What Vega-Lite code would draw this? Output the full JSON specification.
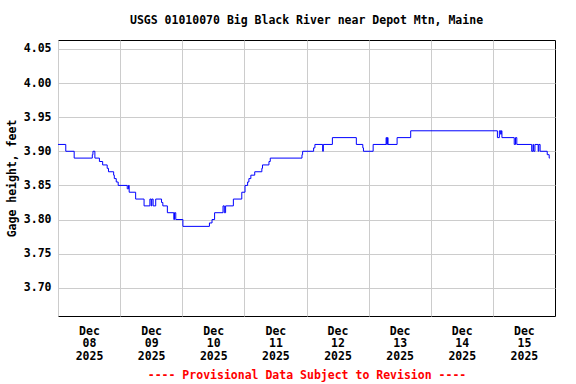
{
  "$schema": "https://vega.github.io/schema/vega-lite/v6.json",
  "autosize": {"type": "none"},
  "width": 497,
  "height": 276,
  "padding": {"left": 58, "top": 40, "right": 21, "bottom": 68},
  "background": "white",
  "title": {
    "text": "USGS 01010070 Big Black River near Depot Mtn, Maine",
    "font": "DejaVu Sans Mono",
    "fontSize": 11.5,
    "fontWeight": "bold",
    "color": "black",
    "anchor": "middle",
    "offset": 14
  },
  "config": {
    "view": {"stroke": "black", "strokeWidth": 1},
    "font": "DejaVu Sans Mono"
  },
  "data": {
    "values": [
      {"t": "2025-12-08T00:00:00", "v": 3.91},
      {"t": "2025-12-08T03:00:00", "v": 3.90},
      {"t": "2025-12-08T06:15:00", "v": 3.89},
      {"t": "2025-12-08T13:15:00", "v": 3.895},
      {"t": "2025-12-08T13:30:00", "v": 3.90},
      {"t": "2025-12-08T14:15:00", "v": 3.89},
      {"t": "2025-12-08T16:00:00", "v": 3.885},
      {"t": "2025-12-08T17:15:00", "v": 3.88},
      {"t": "2025-12-08T19:00:00", "v": 3.875},
      {"t": "2025-12-08T19:30:00", "v": 3.87},
      {"t": "2025-12-08T21:30:00", "v": 3.865},
      {"t": "2025-12-08T21:45:00", "v": 3.86},
      {"t": "2025-12-08T22:30:00", "v": 3.855},
      {"t": "2025-12-08T23:15:00", "v": 3.85},
      {"t": "2025-12-09T02:45:00", "v": 3.845},
      {"t": "2025-12-09T03:15:00", "v": 3.85},
      {"t": "2025-12-09T03:30:00", "v": 3.84},
      {"t": "2025-12-09T06:00:00", "v": 3.83},
      {"t": "2025-12-09T09:15:00", "v": 3.82},
      {"t": "2025-12-09T11:30:00", "v": 3.83},
      {"t": "2025-12-09T12:00:00", "v": 3.82},
      {"t": "2025-12-09T12:15:00", "v": 3.83},
      {"t": "2025-12-09T12:45:00", "v": 3.82},
      {"t": "2025-12-09T13:45:00", "v": 3.83},
      {"t": "2025-12-09T16:00:00", "v": 3.825},
      {"t": "2025-12-09T16:30:00", "v": 3.82},
      {"t": "2025-12-09T18:15:00", "v": 3.81},
      {"t": "2025-12-09T20:45:00", "v": 3.80},
      {"t": "2025-12-09T21:00:00", "v": 3.81},
      {"t": "2025-12-09T21:30:00", "v": 3.80},
      {"t": "2025-12-10T00:15:00", "v": 3.79},
      {"t": "2025-12-10T10:30:00", "v": 3.795},
      {"t": "2025-12-10T11:30:00", "v": 3.80},
      {"t": "2025-12-10T12:30:00", "v": 3.81},
      {"t": "2025-12-10T15:45:00", "v": 3.82},
      {"t": "2025-12-10T16:15:00", "v": 3.81},
      {"t": "2025-12-10T16:45:00", "v": 3.82},
      {"t": "2025-12-10T19:45:00", "v": 3.83},
      {"t": "2025-12-10T23:00:00", "v": 3.84},
      {"t": "2025-12-11T00:15:00", "v": 3.85},
      {"t": "2025-12-11T01:15:00", "v": 3.855},
      {"t": "2025-12-11T01:45:00", "v": 3.86},
      {"t": "2025-12-11T02:30:00", "v": 3.865},
      {"t": "2025-12-11T04:00:00", "v": 3.87},
      {"t": "2025-12-11T06:45:00", "v": 3.875},
      {"t": "2025-12-11T07:00:00", "v": 3.88},
      {"t": "2025-12-11T09:30:00", "v": 3.885},
      {"t": "2025-12-11T10:00:00", "v": 3.89},
      {"t": "2025-12-11T22:15:00", "v": 3.895},
      {"t": "2025-12-11T22:30:00", "v": 3.90},
      {"t": "2025-12-12T02:45:00", "v": 3.905},
      {"t": "2025-12-12T03:15:00", "v": 3.91},
      {"t": "2025-12-12T06:15:00", "v": 3.90},
      {"t": "2025-12-12T06:30:00", "v": 3.91},
      {"t": "2025-12-12T10:00:00", "v": 3.92},
      {"t": "2025-12-12T19:15:00", "v": 3.91},
      {"t": "2025-12-12T21:45:00", "v": 3.905},
      {"t": "2025-12-12T22:00:00", "v": 3.90},
      {"t": "2025-12-13T01:45:00", "v": 3.91},
      {"t": "2025-12-13T06:45:00", "v": 3.92},
      {"t": "2025-12-13T07:00:00", "v": 3.91},
      {"t": "2025-12-13T07:15:00", "v": 3.92},
      {"t": "2025-12-13T07:30:00", "v": 3.91},
      {"t": "2025-12-13T11:00:00", "v": 3.92},
      {"t": "2025-12-13T16:15:00", "v": 3.93},
      {"t": "2025-12-15T01:45:00", "v": 3.92},
      {"t": "2025-12-15T02:30:00", "v": 3.93},
      {"t": "2025-12-15T03:00:00", "v": 3.925},
      {"t": "2025-12-15T03:15:00", "v": 3.93},
      {"t": "2025-12-15T03:30:00", "v": 3.92},
      {"t": "2025-12-15T08:15:00", "v": 3.91},
      {"t": "2025-12-15T08:45:00", "v": 3.92},
      {"t": "2025-12-15T09:15:00", "v": 3.91},
      {"t": "2025-12-15T15:00:00", "v": 3.90},
      {"t": "2025-12-15T15:30:00", "v": 3.91},
      {"t": "2025-12-15T15:45:00", "v": 3.90},
      {"t": "2025-12-15T16:15:00", "v": 3.91},
      {"t": "2025-12-15T17:30:00", "v": 3.90},
      {"t": "2025-12-15T17:45:00", "v": 3.91},
      {"t": "2025-12-15T18:15:00", "v": 3.90},
      {"t": "2025-12-15T21:00:00", "v": 3.895},
      {"t": "2025-12-15T21:45:00", "v": 3.89},
      {"t": "2025-12-15T22:00:00", "v": 3.89}
    ]
  },
  "mark": {"type": "line", "interpolate": "step-after", "color": "#0000ff", "strokeWidth": 1, "clip": true},
  "encoding": {
    "x": {
      "field": "t",
      "type": "temporal",
      "scale": {
        "domain": [
          {"year": 2025, "month": 12, "date": 8},
          {"year": 2025, "month": 12, "date": 16}
        ],
        "nice": false
      },
      "axis": {
        "values": [
          {"year": 2025, "month": 12, "date": 8},
          {"year": 2025, "month": 12, "date": 9},
          {"year": 2025, "month": 12, "date": 10},
          {"year": 2025, "month": 12, "date": 11},
          {"year": 2025, "month": 12, "date": 12},
          {"year": 2025, "month": 12, "date": 13},
          {"year": 2025, "month": 12, "date": 14},
          {"year": 2025, "month": 12, "date": 15}
        ],
        "labelExpr": "[timeFormat(datum.value, '%b'), timeFormat(datum.value, '%d'), timeFormat(datum.value, '%Y')]",
        "labelOffset": 31,
        "labelAlign": "center",
        "labelBaseline": "top",
        "labelPadding": 9,
        "labelLineHeight": 12.5,
        "labelFont": "DejaVu Sans Mono",
        "labelFontSize": 11.5,
        "labelFontWeight": "bold",
        "labelColor": "black",
        "labelFlush": false,
        "labelOverlap": false,
        "ticks": false,
        "domain": false,
        "grid": true,
        "gridColor": "#cccccc",
        "gridWidth": 1,
        "title": "---- Provisional Data Subject to Revision ----",
        "titleColor": "#ff0000",
        "titleFont": "DejaVu Sans Mono",
        "titleFontSize": 11.5,
        "titleFontWeight": "bold",
        "titlePadding": 8
      }
    },
    "y": {
      "field": "v",
      "type": "quantitative",
      "scale": {"domain": [3.6587, 4.063], "nice": false, "zero": false},
      "axis": {
        "values": [3.70, 3.75, 3.80, 3.85, 3.90, 3.95, 4.00, 4.05],
        "format": ".2f",
        "labelFont": "DejaVu Sans Mono",
        "labelFontSize": 11.5,
        "labelFontWeight": "bold",
        "labelColor": "black",
        "labelPadding": 7,
        "ticks": false,
        "domain": false,
        "grid": true,
        "gridColor": "#cccccc",
        "gridWidth": 1,
        "title": "Gage height, feet",
        "titleColor": "black",
        "titleFont": "DejaVu Sans Mono",
        "titleFontSize": 11.5,
        "titleFontWeight": "bold",
        "titlePadding": 6
      }
    }
  }
}
